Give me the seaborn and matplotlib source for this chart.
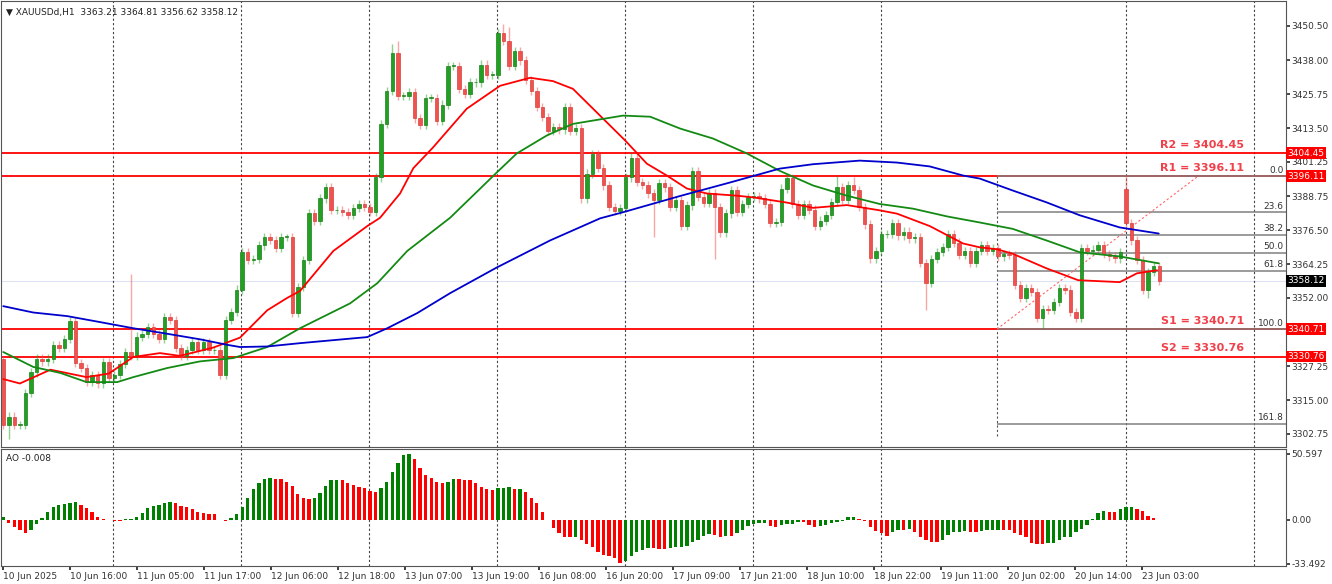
import numpy as np
import pandas as pd
import matplotlib
matplotlib.use("Agg")
import matplotlib.pyplot as plt
import seaborn as sns

# ---- data (XAUUSDd, H1) ----
closes = [
    3306, 3309, 3306, 3306, 3317.5, 3325, 3330, 3329, 3330, 3335, 3334, 3337, 3343.6, 3328.4,
    3326.6, 3321.5, 3324, 3321, 3328.8, 3323, 3324, 3328, 3332.4, 3331, 3338, 3339, 3341.4, 3339,
    3337, 3345, 3344, 3333.8, 3331, 3333, 3336, 3333, 3336, 3333, 3333, 3324, 3344, 3347, 3355,
    3368.5, 3365.6, 3366, 3371, 3374, 3373, 3370, 3374, 3374, 3346.5, 3356,
    3365.6, 3382.6, 3380, 3388, 3392, 3383.7, 3383.7, 3383, 3382, 3384.6, 3386, 3385, 3383, 3395.6,
    3415, 3427, 3440.7, 3425, 3425, 3426.5, 3417, 3414.5, 3424.5, 3424.5, 3416, 3422, 3436, 3436,
    3427.7, 3426, 3430, 3430, 3436.5, 3432.6, 3432.6, 3448, 3445, 3436, 3441.5, 3438, 3431, 3427,
    3421, 3417.6, 3412.6, 3414, 3413, 3421, 3412.6, 3413.5, 3388, 3397, 3404, 3399,
    3392.7, 3385, 3383.5, 3384.5, 3395.6, 3402.8, 3394, 3393, 3389.8, 3387.5, 3393.7, 3392, 3385,
    3387.5, 3378, 3385.5, 3398, 3388.4, 3386.5, 3390, 3385, 3375.7, 3382.6, 3391, 3383, 3386,
    3388.4, 3389, 3388, 3386, 3379, 3379.5, 3391.6, 3395.5, 3386, 3382, 3386, 3384, 3378, 3380,
    3382, 3386.6, 3392, 3387.5, 3392.7, 3391, 3385, 3378.6, 3366.3, 3369, 3375, 3375, 3379,
    3374.6, 3376, 3373.5, 3374, 3364.5, 3357.3, 3366, 3368.5, 3370.5, 3375, 3372, 3367.4, 3369,
    3364.5, 3369, 3371, 3369, 3370, 3367,
    3368, 3367.5, 3356.6, 3352, 3355.7, 3354, 3344.6, 3348, 3347.5, 3350.4, 3355.5, 3355, 3346.8,
    3344.6, 3370, 3369, 3369.5, 3371, 3367.8, 3367, 3366.3, 3368.5, 3379, 3372.8, 3365.6, 3355,
    3361.3, 3363.5, 3358.12,
]
first_open = 3330
open_gaps = {202: 3391.6}
wick_highs = {0: 3331, 23: 3360.5, 51: 3375, 70: 3444, 71: 3445, 90: 3451, 91: 3450,
              150: 3396, 153: 3395.6, 202: 3396.1}
wick_lows = {1: 3301, 117: 3374, 128: 3366, 166: 3347.6, 187: 3340.7, 206: 3352}

ao_values = [
    2, -2, -5.6, -8, -10, -7.7, -3, 1.3, 6.4, 9.7, 11.5, 12.3, 13.3, 13.8, 11.5, 9, 5.9, 2, 0.5,
    0, -0.5, -0.8, 0.5, 1, 2, 5.6, 9, 10.7, 11.8, 13, 13.8, 12.8, 11, 9.7, 8.7, 6.4, 5.1, 4.9,
    4.3, 0, -0.8, 1.3, 4.6, 9.7, 17, 23.5, 28, 31.2, 32, 31.2, 31.1, 29, 26, 20, 16.6, 15.8, 16.6,
    20.4, 26, 30.7, 31, 30.7, 28.6, 26.8, 25.5, 24.3, 22.5, 21.7, 24.8, 29.4, 37, 44, 49.8, 50.2,
    46.5, 39.6, 34.5, 32, 29.4, 28, 29.4, 31.2, 31.1, 30.7, 30.6, 28.6, 25.5, 23.5, 23, 24.3,
    24.8, 25, 24, 24.1, 21.7, 16.6, 12.8, 6.4, 0, -6.4, -10, -12.8, -13.3, -13.2, -15.3, -18.4,
    -21, -24.3, -26.8, -28, -29.4, -32.7, -31.2, -27.6, -24.3, -23, -21.7, -21.8, -21.9, -22.5,
    -21.7, -21, -20.4, -20.3, -16.6, -15.3, -12, -10.7, -11.5, -13.3, -12.3, -12.4, -10.2, -7.7,
    -4.6, -3, -2.6, -2, -4.6, -5.6, -4.1, -3, -2.9, -1.3, -1.4, -3.8, -5.6, -4.6, -3.6, -2.6,
    -1.5, -0.5, 2, 2.6, 0.8, -0.5, -5.1, -8.2, -10.2, -12.3, -9.2, -7.7, -7.8, -7.2, -9, -12.8,
    -15.3, -16.6, -16.7, -15.3, -11.5, -9, -8.9, -8.8, -8.9, -9.0, -8.2, -7.7, -7.6, -7.5, -7.7,
    -7.9, -9.7, -11.5, -13.3, -17.9, -18.4, -18.5, -17.9, -17.4, -15.3, -13.3, -13.2, -9, -7.2,
    -3.8, 0.5, 5.6, 7.2, 6.4, 5.9, 8.2, 9.7, 9.8, 8.2, 7.2, 3, 1.2, -0.008,
]

# moving averages sampled along the chart (bar index, price)
ma_red_idx = [0, 3, 8.5, 15, 19, 23.4, 28.2, 31.8, 37.8, 42.6, 47.5, 51.1, 53.4, 59.4, 65.5,
              67.8, 71.4, 73.8, 77.3, 83.4, 89.4, 94.8, 98.9, 102.5, 111.9, 115.8, 119.4, 123,
              126.6, 132, 134.9, 141, 145.7, 149.3, 151.8, 157.7, 160.8, 166.7, 172.7, 175.7,
              178.8, 181.6, 187.7, 193.4, 200.9, 204, 207.6]
ma_red = [3322.6, 3321, 3326, 3323.3, 3324.6, 3330.6, 3332, 3331, 3334, 3337.6, 3347.5, 3352,
          3354.5, 3369, 3378, 3381, 3389.8, 3399, 3406.4, 3420.5, 3428.8, 3431.7, 3430.5,
          3427.7, 3409, 3400.6, 3396.3, 3391.6, 3389.8, 3389, 3388.4, 3386.5, 3384.6, 3385.2,
          3385.6, 3383.7, 3382.5, 3378, 3371.7, 3370.3, 3369.6, 3368, 3362.7, 3358.4, 3357.7,
          3360.9, 3362]
ma_green_idx = [0, 5.4, 10.3, 15, 20.5, 23.4, 29.5, 35.4, 41.4, 47.5, 53.4, 62.4, 67.3, 72.7,
                80.4, 88.8, 92.4, 97.8, 102.5, 111.5, 116.4, 121.8, 127.7, 133.8, 139.7, 145.7,
                151.8, 157.7, 163.7, 169.8, 175.7, 181.6, 187.7, 193.7, 200.9, 207.9]
ma_green = [3332.4, 3327, 3324.8, 3321.5, 3321.5, 3323.3, 3326.6, 3329, 3330.2, 3334.2, 3341,
            3350, 3357.3, 3369, 3381, 3397.4, 3404.3, 3410.8, 3415, 3418, 3417.6, 3413.3,
            3409.7, 3404.3, 3398, 3392.7, 3389, 3386, 3384.3, 3381.5, 3379.3, 3377, 3372.8,
            3368.5, 3367, 3364.5]
ma_blue_idx = [0, 5.4, 11.5, 17.5, 23.4, 29.5, 35.4, 40.3, 42.6, 47.5, 53.4, 65.5, 69.1, 74.5,
               80.4, 88.8, 98.4, 107.4, 111.5, 121.8, 130.8, 139.7, 145.7, 154.1, 160.8, 166.7,
               172.7, 175.7, 181.6, 187.7, 193.7, 200.9, 207.9]
ma_blue = [3349, 3346.7, 3345.4, 3343.2, 3341, 3339, 3337, 3335, 3334.2, 3334.4, 3335.6,
           3337.8, 3341, 3346.5, 3353.7, 3363, 3372.8, 3380.8, 3383, 3388.9, 3393.8, 3398.8,
           3400.4, 3401.7, 3401, 3399.6, 3396.3, 3395.2, 3390.9, 3386.6, 3381.9, 3377.5,
           3375.3]

levels = {"R2": 3404.45, "R1": 3396.11, "S1": 3340.71, "S2": 3330.76}
fib_high, fib_low = 3396.11, 3340.71
fib_ratios = [0.0, 23.6, 38.2, 50.0, 61.8, 100.0, 161.8]
last_price = 3358.12

price_ticks = [3450.50, 3438.00, 3425.75, 3413.50, 3401.25, 3388.75, 3376.50, 3364.25,
               3352.00, 3327.25, 3315.00, 3302.75]
time_labels = ["10 Jun 2025", "10 Jun 16:00", "11 Jun 05:00", "11 Jun 17:00", "12 Jun 06:00",
               "12 Jun 18:00", "13 Jun 07:00", "13 Jun 19:00", "16 Jun 08:00", "16 Jun 20:00",
               "17 Jun 09:00", "17 Jun 21:00", "18 Jun 10:00", "18 Jun 22:00", "19 Jun 11:00",
               "20 Jun 02:00", "20 Jun 14:00", "23 Jun 03:00"]
grid_idx = [19.8, 42.8, 65.8, 88.8, 111.9, 134.9, 157.9, 202, 225]

# ---- build OHLC ----
n = len(closes)
opens = [first_open] + closes[:-1]
for k, v in open_gaps.items():
    opens[k] = v
df = pd.DataFrame({"open": opens, "close": closes})
df["high"] = df[["open", "close"]].max(axis=1) + 1.5
df["low"] = df[["open", "close"]].min(axis=1) - 1.5
for k, v in wick_highs.items():
    df.loc[k, "high"] = v
for k, v in wick_lows.items():
    df.loc[k, "low"] = v
df["x"] = np.arange(n)

sns.set_theme(style="white")
plt.rcParams["font.family"] = "DejaVu Sans"
W, H = 1332, 584
PLOT_W = 1285
fig = plt.figure(figsize=(W / 100, H / 100), dpi=100)
ax = fig.add_axes([1 / W, 1 - 447 / H, PLOT_W / W, 446 / H])
ax2 = fig.add_axes([1 / W, 1 - 566 / H, PLOT_W / W, 117 / H])

XMIN, XMAX = -0.4, 230.8
BULL, BEAR = "#22A022", "#F0534F"

# candles
up = df["close"] >= df["open"]
for mask, col, edge in [(up, BULL, "#1B7F1B"), (~up, BEAR, "#D9403C")]:
    d = df[mask]
    ax.vlines(d["x"], d["low"], d["high"], color=col, lw=1, alpha=0.5, zorder=3)
    ax.bar(d["x"], (d["close"] - d["open"]).abs().clip(lower=0.3),
           bottom=d[["open", "close"]].min(axis=1), width=0.62, color=col,
           edgecolor=edge, lw=0.5, zorder=4)

# moving averages
sns.lineplot(x=ma_red_idx, y=ma_red, ax=ax, color="#FF0000", lw=1.3, zorder=5)
sns.lineplot(x=ma_green_idx, y=ma_green, ax=ax, color="#138A13", lw=1.3, zorder=5)
sns.lineplot(x=ma_blue_idx, y=ma_blue, ax=ax, color="#0000CC", lw=1.3, zorder=5)

# support / resistance
for name, v in levels.items():
    ax.axhline(v, color="#FF0000", lw=1.3, zorder=2)
    ax.text(223.3, v + 1.2, f"{name} = {v:.2f}", color="#F0404A", fontsize=8,
            fontweight="bold", ha="right", va="bottom", zorder=6)
ax.axhline(last_price, color="#DDE3F5", lw=0.8, zorder=1)

# fibonacci
fib_start = 178.8
for r in fib_ratios:
    v = fib_high - (fib_high - fib_low) * r / 100
    ax.hlines(v, fib_start, XMAX, color="#808080", lw=1.1, zorder=2)
    ax.text(XMAX - 0.4, v + 0.5, f"{r:.1f}", fontsize=6.5, ha="right", va="bottom",
            color="#333333", zorder=6)
ax.plot([fib_start, 215], [fib_low, fib_high], color="#FF6666", lw=0.8, ls=(0, (2, 2)), zorder=2)
ax.vlines(fib_start, 3302, 3396.11, color="#555555", lw=0.8, ls=(0, (2, 2)), zorder=1)

for a in (ax, ax2):
    for g in grid_idx:
        a.axvline(g, color="#444444", lw=0.8, ls=(0, (2, 2)), zorder=1)
    a.set_xlim(XMIN, XMAX)
    a.yaxis.tick_right()
    a.tick_params(axis="y", labelsize=6.5, length=3, pad=1, right=True, colors="#333333")
    for s in a.spines.values():
        s.set_color("#555555")
        s.set_linewidth(0.8)

ax.set_ylim(3298.0, 3459.5)
ax.set_yticks(price_ticks)
ax.set_yticklabels([f"{t:.2f}" for t in price_ticks])
ax.set_xticks([])
ax.set_xlabel("")
ax.set_ylabel("")

# boxed price labels on the axis
for v in levels.values():
    ax.text(1.001, v, f"{v:.2f}", transform=ax.get_yaxis_transform(), fontsize=6.5,
            color="white", va="center", ha="left",
            bbox=dict(boxstyle="square,pad=0.15", fc="#FF0000", ec="none"), clip_on=False)
ax.text(1.001, last_price, f"{last_price:.2f}", transform=ax.get_yaxis_transform(),
        fontsize=6.5, color="white", va="center", ha="left",
        bbox=dict(boxstyle="square,pad=0.15", fc="black", ec="none"), clip_on=False)

ax.text(0.004, 0.985, "\u25BC XAUUSDd,H1  3363.21 3364.81 3356.62 3358.12",
        transform=ax.transAxes, fontsize=6.5, va="top", ha="left", color="#222222")

# awesome oscillator
ao = np.array(ao_values)
ao_col = ["#008000" if i == 0 or ao[i] > ao[i - 1] else "#FF0000" for i in range(len(ao))]
ax2.bar(np.arange(len(ao)), ao, width=0.6, color=ao_col, lw=0, zorder=3)
ax2.set_ylim(-35.3, 54.4)
ax2.set_yticks([50.597, 0.0, -33.492])
ax2.set_yticklabels(["50.597", "0.00", "-33.492"])
ax2.set_xticks(np.arange(len(time_labels)) * 12.05)
ax2.set_xticklabels(time_labels, fontsize=6.5, ha="left", color="#333333")
ax2.tick_params(axis="x", length=3, pad=1, bottom=True)
ax2.text(0.004, 0.96, "AO -0.008", transform=ax2.transAxes, fontsize=6.5, va="top",
         ha="left", color="#222222")

fig.savefig("out.png", dpi=100, facecolor="white")
